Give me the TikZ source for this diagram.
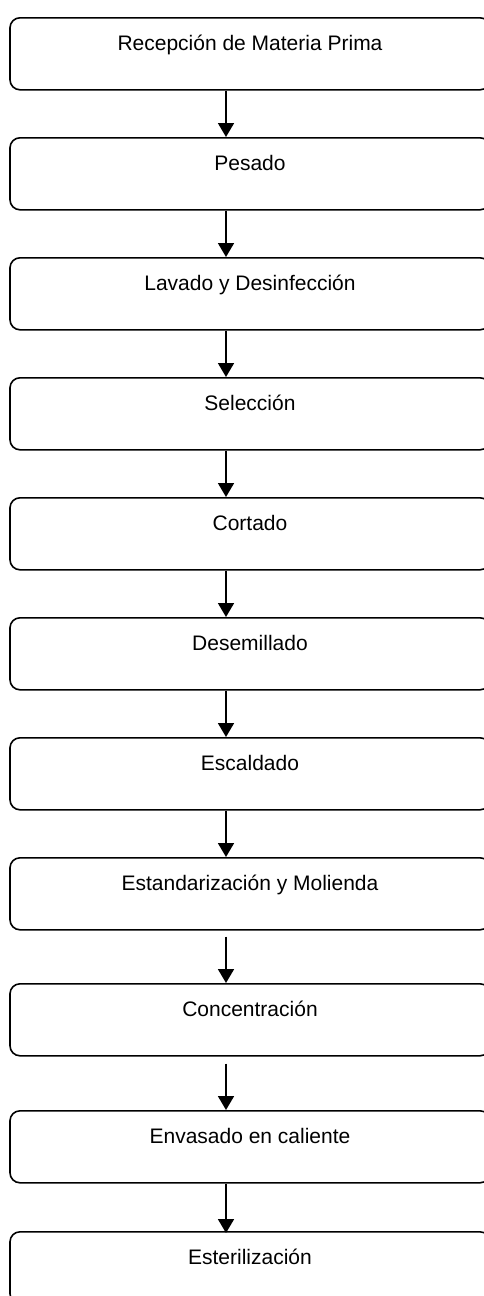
\documentclass[tikz,border=0pt]{standalone}
\usepackage{fontspec}
\setmainfont{Liberation Sans}
\usetikzlibrary{arrows.meta}

\tikzset{
  procbox/.style={draw, line width=1.6pt, rounded corners=10pt, minimum width=480pt,
    inner sep=0pt, text height=33pt, text depth=39pt, anchor=north,
    font=\fontsize{21}{25}\selectfont},
  flow/.style={line width=1.8pt, -{Triangle[width=16pt,length=14pt]}}
}

\begin{document}
\begin{tikzpicture}[x=1pt, y=-1pt]
\clip (0,0) rectangle (484,1296);
\useasboundingbox (0,0) rectangle (484,1296);
\node[procbox] (recep) at (250,17) {Recepción de Materia Prima};
\node[procbox] (pesado) at (250,137) {Pesado};
\node[procbox] (lavado) at (250,257) {Lavado y Desinfección};
\node[procbox] (selec) at (250,377) {Selección};
\node[procbox] (cortado) at (250,497) {Cortado};
\node[procbox] (desem) at (250,617) {Desemillado};
\node[procbox] (escal) at (250,737) {Escaldado};
\node[procbox] (estand) at (250,857) {Estandarización y Molienda};
\node[procbox] (concen) at (250,983) {Concentración};
\node[procbox] (envas) at (250,1110) {Envasado en caliente};
\node[procbox] (ester) at (250,1231) {Esterilización};
\draw[flow] ([xshift=-24pt]recep.south) -- ([xshift=-24pt]pesado.north);
\draw[flow] ([xshift=-24pt]pesado.south) -- ([xshift=-24pt]lavado.north);
\draw[flow] ([xshift=-24pt]lavado.south) -- ([xshift=-24pt]selec.north);
\draw[flow] ([xshift=-24pt]selec.south) -- ([xshift=-24pt]cortado.north);
\draw[flow] ([xshift=-24pt]cortado.south) -- ([xshift=-24pt]desem.north);
\draw[flow] ([xshift=-24pt]desem.south) -- ([xshift=-24pt]escal.north);
\draw[flow] ([xshift=-24pt]escal.south) -- ([xshift=-24pt]estand.north);
\draw[flow] ([xshift=-24pt,yshift=-6pt]estand.south) -- ([xshift=-24pt]concen.north);
\draw[flow] ([xshift=-24pt,yshift=-7pt]concen.south) -- ([xshift=-24pt]envas.north);
\draw[flow] ([xshift=-24pt]envas.south) -- ([xshift=-24pt,yshift=-2pt]ester.north);
\end{tikzpicture}
\end{document}
